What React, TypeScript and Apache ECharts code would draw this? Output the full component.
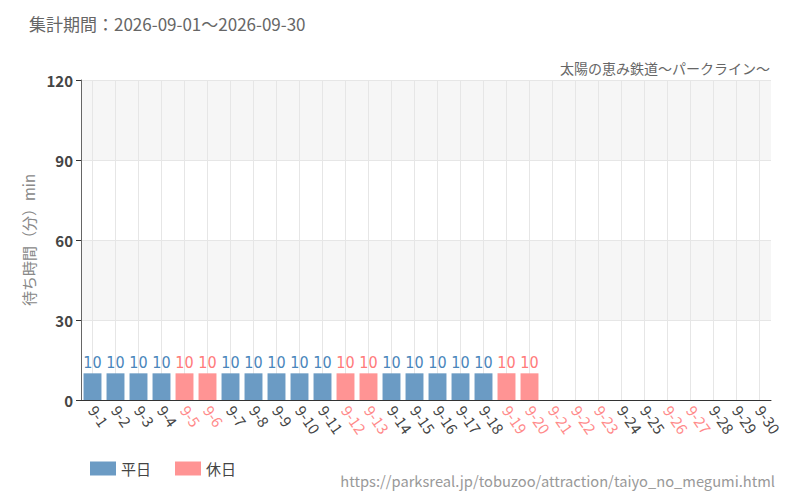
import React, { useEffect, useRef } from 'react';
import * as echarts from 'echarts';

const days = [
  '9-1', '9-2', '9-3', '9-4', '9-5', '9-6', '9-7', '9-8', '9-9', '9-10',
  '9-11', '9-12', '9-13', '9-14', '9-15', '9-16', '9-17', '9-18', '9-19', '9-20',
  '9-21', '9-22', '9-23', '9-24', '9-25', '9-26', '9-27', '9-28', '9-29', '9-30',
];
const holidays = ['9-5', '9-6', '9-12', '9-13', '9-19', '9-20', '9-21', '9-22', '9-23', '9-26', '9-27'];
// waiting time per day (min), null = no data
const waits: (number | null)[] = [
  10, 10, 10, 10, 10, 10, 10, 10, 10, 10,
  10, 10, 10, 10, 10, 10, 10, 10, 10, 10,
  null, null, null, null, null, null, null, null, null, null,
];
const yTicks = [0, 30, 60, 90, 120];

const BLUE = '#6b9bc4';
const RED = '#ff9494';
const FONT = '"Noto Sans CJK JP", "Noto Sans", sans-serif';
const NARROW = '"Liberation Sans Narrow", "DejaVu Sans Condensed", sans-serif';

export default function App() {
  const chartRef = useRef<HTMLDivElement>(null);

  useEffect(() => {
    if (!chartRef.current) return;
    const myChart = echarts.init(chartRef.current, null, { renderer: 'svg' });

    const isHoliday = (d: string) => holidays.includes(d);
    const weekday = waits.map((v, i) => (isHoliday(days[i]) || v == null ? '-' : v));
    const holiday = waits.map((v, i) => (!isHoliday(days[i]) || v == null ? '-' : v));

    const option = {
      animation: false,
      textStyle: { fontFamily: FONT },
      title: [
        {
          text: '集計期間：2026-09-01～2026-09-30',
          left: 24,
          top: 10,
          textStyle: { color: '#666', fontSize: 17, fontWeight: 'normal', fontFamily: FONT },
        },
        {
          text: '太陽の恵み鉄道～パークライン～',
          right: 25,
          top: 56,
          textStyle: { color: '#666', fontSize: 14, fontWeight: 'normal', fontFamily: FONT },
        },
        {
          text: 'https://parksreal.jp/tobuzoo/attraction/taiyo_no_megumi.html',
          right: 20,
          top: 468,
          textStyle: { color: '#999', fontSize: 14.7, fontWeight: 'normal', fontFamily: FONT },
        },
      ],
      legend: {
        left: 85,
        top: 456,
        itemWidth: 26,
        itemHeight: 14,
        itemGap: 24,
        textStyle: { color: '#444', fontSize: 15, fontFamily: FONT },
        data: [
          { name: '平日', icon: 'rect', itemStyle: { color: BLUE } },
          { name: '休日', icon: 'rect', itemStyle: { color: RED } },
        ],
      },
      grid: { left: 81, right: 29, top: 80, bottom: 100 },
      xAxis: {
        type: 'category',
        data: days,
        axisLine: { lineStyle: { color: '#333' } },
        axisTick: { alignWithLabel: true, lineStyle: { color: '#333' } },
        splitLine: { show: true, alignWithLabel: true, lineStyle: { color: '#e6e6e6' } },
        axisLabel: {
          interval: 0,
          rotate: -55,
          fontSize: 15,
          margin: 7,
          fontFamily: FONT,
          color: (v: string) => (isHoliday(v) ? '#ff8a8a' : '#444'),
        },
      },
      yAxis: {
        type: 'value',
        min: yTicks[0],
        max: yTicks[yTicks.length - 1],
        interval: 30,
        name: '待ち時間（分）min',
        nameLocation: 'middle',
        nameGap: 45,
        nameTextStyle: { color: '#888', fontSize: 15, fontFamily: FONT },
        axisLine: { show: true, lineStyle: { color: '#666' } },
        axisTick: { show: true, lineStyle: { color: '#333' } },
        axisLabel: { color: '#444', fontSize: 15, fontWeight: 'bold', fontFamily: FONT },
        splitLine: { lineStyle: { color: '#e6e6e6' } },
        splitArea: { show: true, areaStyle: { color: ['#ffffff', '#f6f6f6'] } },
      },
      series: [
        {
          name: '平日',
          type: 'bar',
          stack: 'wait',
          barWidth: '78%',
          data: weekday,
          itemStyle: { color: BLUE },
          label: {
            show: true,
            position: 'top',
            distance: 3,
            color: '#4a86bb',
            fontSize: 16,
            fontFamily: NARROW,
          },
        },
        {
          name: '休日',
          type: 'bar',
          stack: 'wait',
          barWidth: '78%',
          data: holiday,
          itemStyle: { color: RED },
          label: {
            show: true,
            position: 'top',
            distance: 3,
            color: '#ff7a7a',
            fontSize: 16,
            fontFamily: NARROW,
          },
        },
      ],
    };

    myChart.setOption(option);
    const handleResize = () => myChart.resize();
    window.addEventListener('resize', handleResize);
    return () => {
      window.removeEventListener('resize', handleResize);
      myChart.dispose();
    };
  }, []);

  return <div ref={chartRef} style={{ width: '800px', height: '500px', margin: '-8px' }} />;
}
